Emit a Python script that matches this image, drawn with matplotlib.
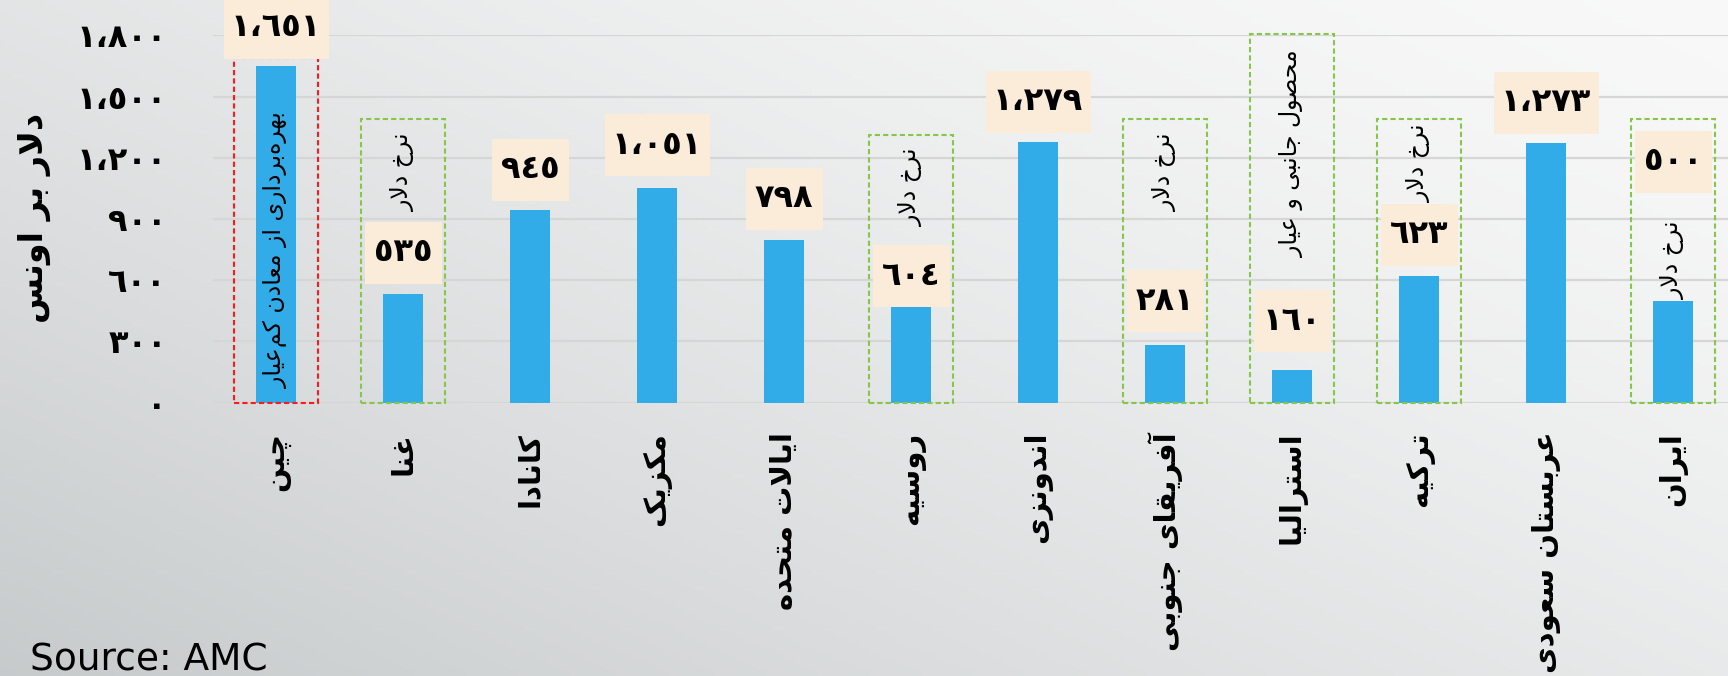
import numpy as np
import matplotlib.pyplot as plt
from matplotlib.patches import Rectangle

# داده‌ها
countries = ['چین', 'غنا', 'کانادا', 'مکزیک', 'ایالات متحده', 'روسیه', 'اندونزی',
             'آفریقای جنوبی', 'استرالیا', 'ترکیه', 'عربستان سعودی', 'ایران']
costs = [1651, 535, 945, 1051, 798, 604, 1279, 281, 160, 623, 1273, 500]
y_ticks = [0, 300, 600, 900, 1200, 1500, 1800]
y_title = 'دلار بر اونس'
source = 'Source: AMC'

# توضیحات داخل کادرهای خط‌چین
note_idx = [0, 1, 5, 7, 8, 9, 11]
note_text = ['بهره\u200cبرداری از معادن کم\u200cعیار', 'نرخ دلار', 'نرخ دلار', 'نرخ دلار',
             'محصول جانبی و عیار', 'نرخ دلار', 'نرخ دلار']

# layout bits (not data)
note_top = [1691, 1389, 1312, 1389, 1807, 1389, 1389]
note_y = [748, 1131, 1057, 1131, 1219, 1175, 700]
note_color = ['#ff1a1a', '#86c64a', '#86c64a', '#86c64a', '#86c64a', '#86c64a', '#86c64a']
label_lift = [38, 41, 40, 43, 41, 3, 40, 44, 49, 41, 40, 139]  # pixels

# --- tiny arabic shaper (matplotlib has no text shaping) ---
FORMS = {
    '\u0627': (0xFE8D, 2), '\u0622': (0xFE81, 2), '\u062F': (0xFEA9, 2),
    '\u0631': (0xFEAD, 2), '\u0632': (0xFEAF, 2), '\u0648': (0xFEED, 2),
    '\u0628': (0xFE8F, 4), '\u062A': (0xFE95, 4), '\u062C': (0xFE9D, 4),
    '\u062D': (0xFEA1, 4), '\u062E': (0xFEA5, 4), '\u0633': (0xFEB1, 4),
    '\u0635': (0xFEB9, 4), '\u0639': (0xFEC9, 4), '\u063A': (0xFECD, 4),
    '\u0641': (0xFED1, 4), '\u0642': (0xFED5, 4), '\u0644': (0xFEDD, 4),
    '\u0645': (0xFEE1, 4), '\u0646': (0xFEE5, 4), '\u0647': (0xFEE9, 4),
    '\u0686': (0xFB7A, 4), '\u06A9': (0xFB8E, 4), '\u06CC': (0xFBFC, 4),
}
LAM_ALEF = {'\u0627': 0xFEFB, '\u0622': 0xFEF5}


def dual(c):
    return c in FORMS and FORMS[c][1] == 4


def shape(text):
    out = []
    n = len(text)
    i = 0
    while i < n:
        c = text[i]
        if c not in FORMS:
            if c != '\u200c':
                out.append(c)
            i += 1
            continue
        link_prev = i > 0 and dual(text[i - 1])
        if c == '\u0644' and i + 1 < n and text[i + 1] in LAM_ALEF:
            out.append(chr(LAM_ALEF[text[i + 1]] + (1 if link_prev else 0)))
            i += 2
            continue
        link_next = dual(c) and i + 1 < n and text[i + 1] in FORMS
        base = FORMS[c][0]
        if link_prev and link_next:
            k = 3
        elif link_prev:
            k = 1
        elif link_next:
            k = 2
        else:
            k = 0
        out.append(chr(base + k))
        i += 1
    return ''.join(reversed(out))


def ar_num(v):
    s = f'{v:,}'
    return s.translate(str.maketrans('0123456789,', '٠١٢٣٤٥٦٧٨٩،'))


plt.rcParams['font.family'] = ['DejaVu Sans']

fig = plt.figure(figsize=(17.28, 6.76), dpi=100)

# background gradient
bg = fig.add_axes([0, 0, 1, 1], zorder=-5)
gx, gy = np.meshgrid(np.linspace(0, 1, 300), np.linspace(0, 1, 120))
t = ((1 - gx) * 0.55 + gy * 0.45) ** 1.4
light = np.array([0.975, 0.975, 0.975])
dark = np.array([0.78, 0.795, 0.8])
img = light[None, None, :] * (1 - t[..., None]) + dark[None, None, :] * t[..., None]
bg.imshow(img, aspect='auto', extent=[0, 1, 0, 1], origin='upper')
bg.axis('off')

ax = fig.add_axes([0.123, 0.4043, 0.882, 0.5432])
ax.set_facecolor('none')
x = np.arange(len(countries))
ax.bar(x, costs, width=0.315, color='#31ace9', zorder=2)

ax.set_xlim(-0.5, len(countries) - 0.5)
ax.set_ylim(0, 1800)
ax.set_yticks(y_ticks)
ax.set_yticklabels([ar_num(v) for v in y_ticks], fontsize=23, fontweight='bold')
ax.set_xticks(x)
ax.set_xticklabels([shape(c) for c in countries], rotation=90, fontsize=21,
                   fontweight='bold', va='top', ha='center')
ax.tick_params(axis='y', length=0, pad=33)
ax.tick_params(axis='x', length=0, pad=21)
ax.grid(axis='y', color='#d6d6d6', linewidth=1.6, zorder=0)
for s in ax.spines.values():
    s.set_visible(False)

# dashed boxes + vertical notes
for i, txt, top, ty, col in zip(note_idx, note_text, note_top, note_y, note_color):
    ax.add_patch(Rectangle((i - 0.333, 0), 0.666, top, fill=False, edgecolor=col,
                           linewidth=1.5, linestyle=(0, (2.5, 1.5)), zorder=3,
                           clip_on=False))
    ax.text(i, ty, shape(txt), rotation=90, ha='center', va='center',
            fontsize=17, zorder=4)

# value labels in beige boxes (box size in pixels, converted to data units)
to_data = ax.transData.inverted()
for i, v in enumerate(costs):
    lbl = ar_num(v)
    cx, cy = ax.transData.transform((i, v))
    cy += label_lift[i]
    w_px, h_px = 35 + 14 * len(lbl), 62
    x0, y0 = to_data.transform((cx - w_px / 2, cy - h_px / 2))
    x1, y1 = to_data.transform((cx + w_px / 2, cy + h_px / 2))
    ax.add_patch(Rectangle((x0, y0), x1 - x0, y1 - y0, facecolor='#fbebd9',
                           edgecolor='none', zorder=5, clip_on=False))
    xm, ym = to_data.transform((cx, cy))
    ax.text(xm, ym, lbl, ha='center', va='center', fontsize=23,
            fontweight='bold', zorder=6, clip_on=False)

fig.text(34 / 1728, 1 - 218 / 676, shape(y_title), rotation=90, ha='center',
         va='center', fontsize=24, fontweight='bold')
fig.text(30 / 1728, 0.008, source, fontsize=27, va='baseline', ha='left')

fig.savefig('out.png', dpi=100)
